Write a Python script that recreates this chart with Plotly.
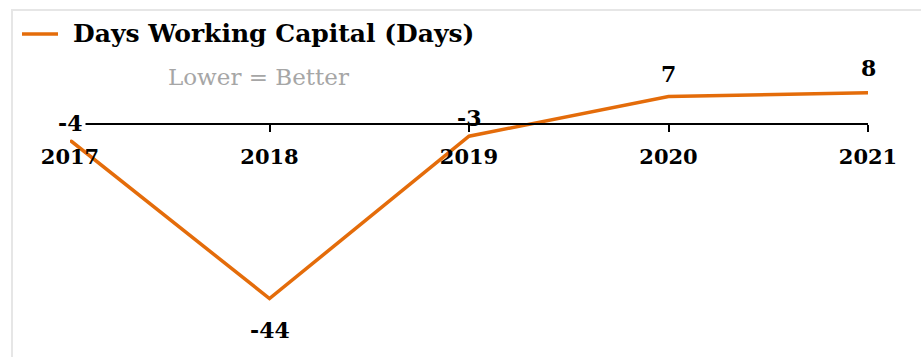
import plotly.graph_objects as go

# Days Working Capital by fiscal year
years = [2017, 2018, 2019, 2020, 2021]
year_labels = ["2017", "2018", "2019", "2020", "2021"]
days_working_capital = [-4, -44, -3, 7, 8]
series_name = "Days Working Capital (Days)"
subtitle = "Lower = Better"

LINE_COLOR = "#E46C0A"
SERIF = "DejaVu Serif"

W, H = 921, 357
M_L, M_R, M_T, M_B = 70, 53, 60, 27
PLOT_W = W - M_L - M_R
PLOT_H = H - M_T - M_B

Y_MIN, Y_MAX = -51.94, 16.24


def px_x(px):
    return (px - M_L) / PLOT_W


def px_y(py):
    return (H - M_B - py) / PLOT_H


fig = go.Figure()
fig.add_trace(go.Scatter(
    x=years,
    y=days_working_capital,
    mode="lines",
    name=series_name,
    line=dict(color=LINE_COLOR, width=3.5),
    hoverinfo="x+y",
    showlegend=False,
))

# value labels: above the point, except the minimum which sits below
label_shift = [17, 18, 18, 23, 25]
for yr, v, dy in zip(years, days_working_capital, label_shift):
    below = v == min(days_working_capital)
    first = yr == years[0]
    fig.add_annotation(
        x=yr, y=v, xref="x", yref="y",
        text=f"<b>{v}</b>", showarrow=False,
        yshift=-31 if below else dy,
        font=dict(family=SERIF, size=22, color="#000000"),
        bgcolor="white" if first else "rgba(0,0,0,0)",
        borderpad=3 if first else 0,
    )

# legend key: line sample + series name
fig.add_shape(
    type="line", xref="paper", yref="paper",
    x0=px_x(22), x1=px_x(58), y0=px_y(34), y1=px_y(34),
    line=dict(color=LINE_COLOR, width=3.5),
)
fig.add_annotation(
    x=px_x(71), y=px_y(34), xref="paper", yref="paper",
    text=f"<b>{series_name}</b>", showarrow=False,
    xanchor="left", yanchor="middle",
    font=dict(family=SERIF, size=25, color="#000000"),
)

# subtitle
fig.add_annotation(
    x=px_x(258), y=px_y(77), xref="paper", yref="paper",
    text=subtitle, showarrow=False,
    font=dict(family=SERIF, size=23, color="#A6A6A6"),
    xanchor="center", yanchor="middle",
)

# outer frame
fig.add_shape(
    type="rect", xref="paper", yref="paper",
    x0=px_x(12), x1=px_x(960), y0=px_y(400), y1=px_y(10),
    line=dict(color="#E6E6E6", width=2), layer="below",
)

zero_pos = (0 - Y_MIN) / (Y_MAX - Y_MIN)

fig.update_layout(
    width=W, height=H,
    margin=dict(l=M_L, r=M_R, t=M_T, b=M_B),
    paper_bgcolor="white", plot_bgcolor="white",
    showlegend=False,
    xaxis=dict(
        range=[years[0], years[-1]],
        tickvals=years, ticktext=year_labels,
        anchor="free", position=zero_pos,
        showline=True, linecolor="#000000", linewidth=2,
        ticks="outside", ticklen=7, tickcolor="#000000", tickwidth=2,
        tickfont=dict(family=SERIF, size=21, color="#000000", weight="bold"),
        ticklabelstandoff=6,
        showgrid=False, zeroline=False, fixedrange=True,
    ),
    yaxis=dict(
        range=[Y_MIN, Y_MAX], visible=False,
        showgrid=False, zeroline=False, fixedrange=True,
    ),
)

fig.write_html("out.html")
